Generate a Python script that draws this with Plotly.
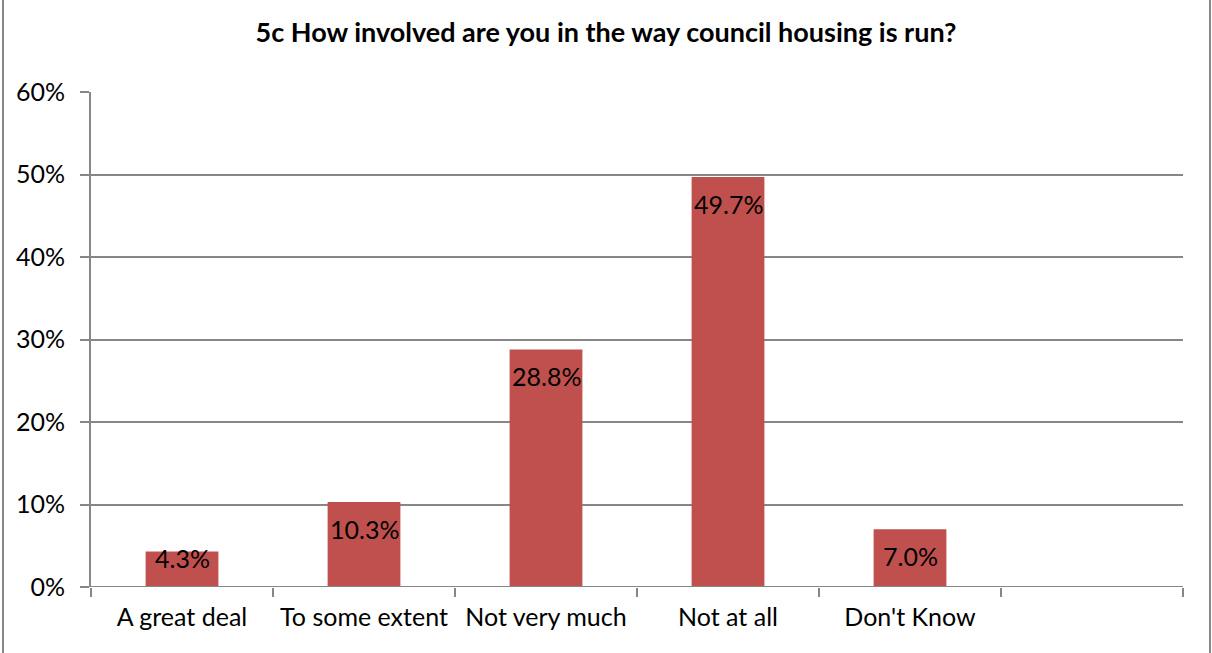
import plotly.graph_objects as go

# Survey responses
categories = ["A great deal", "To some extent", "Not very much", "Not at all", "Don't Know"]
values = [4.3, 10.3, 28.8, 49.7, 7.0]
y_ticks = [0, 10, 20, 30, 40, 50, 60]
y_tick_labels = ["0%", "10%", "20%", "30%", "40%", "50%", "60%"]

W, H = 1212, 653
L, R, T, B = 91, 29, 92, 66
plot_w = W - L - R
plot_h = H - T - B
Y_MAX = 60

FONT = "Lato"
LABEL_SIZE = 25
GRID = "#878787"
LINE_W = 2
BAR = "#C0504D"

x_pos = list(range(len(categories)))

fig = go.Figure()
fig.add_trace(go.Bar(
    x=x_pos, y=values, width=0.4,
    marker=dict(color=BAR, line=dict(width=0)),
    hoverinfo="skip",
))

# value labels placed just inside the top of each bar
annotations = []
for xi, v in zip(x_pos, values):
    bar_px = v / Y_MAX * plot_h
    offset = min(27, bar_px - 29)
    annotations.append(dict(
        x=xi, y=v, xref="x", yref="y", text=f"{v:.1f}%",
        showarrow=False, yanchor="middle", yshift=-offset,
        font=dict(family=FONT, size=LABEL_SIZE, color="#000000"),
    ))

# chart frame lines at left and right edges
def px_to_paper_x(px):
    return (px - L) / plot_w

def px_to_paper_y(py):
    return (H - B - py) / plot_h

shapes = []
for px in (3, 1210):
    shapes.append(dict(
        type="line", xref="paper", yref="paper",
        x0=px_to_paper_x(px), x1=px_to_paper_x(px),
        y0=px_to_paper_y(-5), y1=px_to_paper_y(H + 5),
        line=dict(color=GRID, width=LINE_W),
    ))

fig.update_layout(
    width=W, height=H,
    margin=dict(l=L, r=R, t=T, b=B),
    paper_bgcolor="white", plot_bgcolor="white",
    showlegend=False,
    title=dict(
        text="<b>5c How involved are you in the way council housing is run?</b>",
        x=0.5, xref="container", xanchor="center",
        y=1 - 33 / H, yref="container", yanchor="middle",
        font=dict(family=FONT, size=27, color="#000000"),
    ),
    font=dict(family=FONT, size=LABEL_SIZE, color="#000000"),
    annotations=annotations,
    shapes=shapes,
    bargap=0.6,
)

fig.update_xaxes(
    range=[-0.5, 5.5],
    tickvals=x_pos, ticktext=categories,
    ticks="", showgrid=False, zeroline=False,
    showline=False,
    tickfont=dict(family=FONT, size=LABEL_SIZE, color="#000000"),
    ticklabelstandoff=13,
    minor=dict(tick0=-0.5, dtick=1, ticks="outside", ticklen=9,
               tickcolor=GRID, tickwidth=LINE_W, showgrid=False),
)

fig.update_yaxes(
    range=[0, Y_MAX],
    tickvals=y_ticks, ticktext=y_tick_labels,
    ticks="outside", ticklen=9, tickcolor=GRID, tickwidth=LINE_W,
    showgrid=True, gridcolor=GRID, gridwidth=LINE_W,
    zeroline=False,
    showline=True, linecolor=GRID, linewidth=LINE_W,
    tickfont=dict(family=FONT, size=LABEL_SIZE, color="#000000"),
    ticklabelstandoff=10,
)

# baseline along the bottom of the plot
fig.add_shape(type="line", xref="paper", yref="y", x0=0, x1=1, y0=0, y1=0,
              line=dict(color=GRID, width=LINE_W), layer="above")

fig.write_html("out.html")
